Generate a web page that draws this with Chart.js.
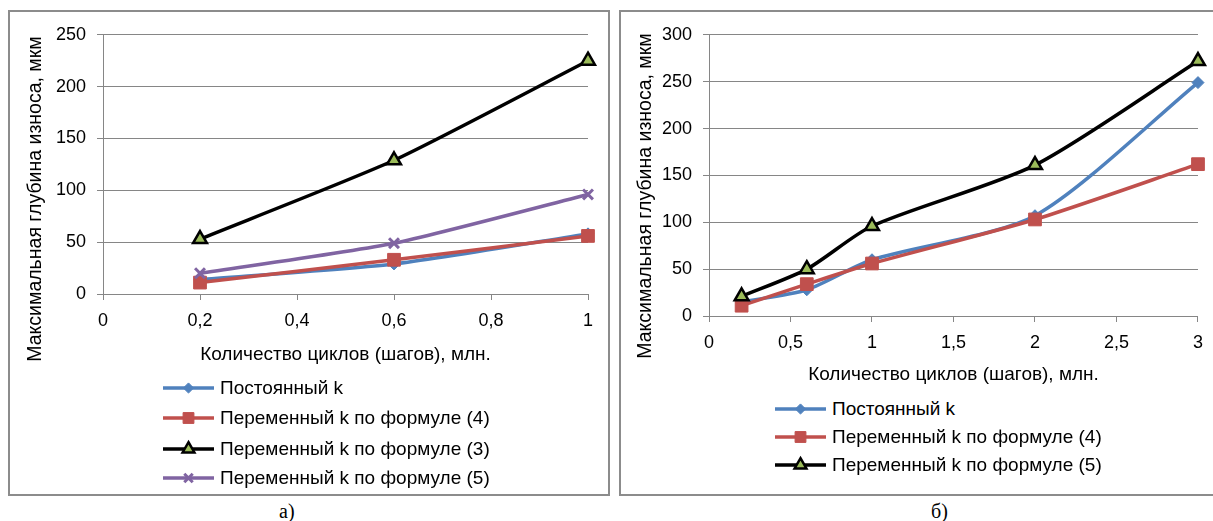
<!DOCTYPE html>
<html>
<head>
<meta charset="utf-8">
<script src="https://cdn.jsdelivr.net/npm/chart.js@4/dist/chart.umd.min.js"></script>
<style>
  html, body { margin: 0; padding: 0; background: #fff; }
  body { width: 1213px; height: 521px; position: relative; overflow: hidden; font-family: 'Liberation Sans', Arial, sans-serif; }
  .frame { position: absolute; border: 2px solid #8c8c8c; box-sizing: border-box; }
  canvas.chart { position: absolute; }
  .legend { position: absolute; }
  .legend .row { position: absolute; left: 0; height: 22px; display: flex; align-items: center; white-space: nowrap; font-size: 19px; color: #000; }
  .legend .row span { margin-left: 6px; }
  .ytitle { position: absolute; width: 400px; height: 24px; line-height: 24px; margin-left: -200px; margin-top: -12px; text-align: center; white-space: nowrap; font-size: 19.5px; color: #000; transform: rotate(-90deg); }
  .caption { position: absolute; font-family: 'Liberation Serif', 'Times New Roman', serif; font-size: 20px; color: #000; }
</style>
</head>
<body>
<div class="frame" style="left:8px;top:10px;width:602px;height:486px;"></div>
<div class="frame" style="left:619px;top:10px;width:600px;height:486px;"></div>

<div style="position:absolute;left:11px;top:13px;width:596px;height:365px;"><canvas id="chartA" class="chart"></canvas></div>
<div style="position:absolute;left:622px;top:13px;width:591px;height:385px;"><canvas id="chartB" class="chart"></canvas></div>

<div id="ytA" class="ytitle" style="left:34px;top:199px;"></div>
<div id="ytB" class="ytitle" style="left:644px;top:196px;"></div>

<div id="legendA" class="legend" style="left:163px;top:0;"></div>
<div id="legendB" class="legend" style="left:775px;top:0;"></div>

<div class="caption" style="left:279px;top:500px;">а)</div>
<div class="caption" style="left:931px;top:500px;">б)</div>

<script>
// --- chart а) ---
const cyclesA = [0.2, 0.6, 1];
const constKA = [14, 29, 58];
const form4A = [11, 33, 56];
const form3A = [53, 129, 225];
const form5A = [20, 49, 96];
const yTicksA = [0, 50, 100, 150, 200, 250];
const xTicksA = [0, 0.2, 0.4, 0.6, 0.8, 1];

// --- chart б) ---
const cyclesB = [0.2, 0.6, 1, 2, 3];
const constKB = [15, 28, 60, 107, 249];
const form4B = [11, 34, 56, 103, 162];
const form5B = [21, 50, 96, 161, 272];
const yTicksB = [0, 50, 100, 150, 200, 250, 300];
const xTicksB = [0, 0.5, 1, 1.5, 2, 2.5, 3];

const yTitle = 'Максимальная глубина износа, мкм';
const xTitle = 'Количество циклов (шагов), млн.';

const styles = {
    constK: { label: 'Постоянный k', color: '#4F81BD', fill: '#4F81BD', point: 'rectRot', radius: 6, pbw: 1 },
    form4:  { label: 'Переменный k по формуле (4)', color: '#C0504D', fill: '#C0504D', point: 'rect', radius: 9, pbw: 1 },
    form3:  { label: 'Переменный k по формуле (3)', color: '#000000', fill: '#9BBB59', point: 'triangle', radius: 8, pbw: 2.5 },
    form5:  { label: 'Переменный k по формуле (5)', color: '#8064A2', fill: '#8064A2', point: 'crossRot', radius: 7, pbw: 3 }
};

const GRID = '#868686';
Chart.defaults.font.family = "'Liberation Sans', Arial, sans-serif";
Chart.defaults.color = '#000';

document.getElementById('ytA').textContent = yTitle;
document.getElementById('ytB').textContent = yTitle;

function fmt(v) {
    return String(Number(v.toFixed(2))).replace('.', ',');
}

function makeSet(st, xs, ys, idx, total, tension) {
    return {
        label: st.label,
        data: xs.map((x, i) => ({ x: x, y: ys[i] })),
        borderColor: st.color,
        backgroundColor: st.fill,
        borderWidth: 3.5,
        pointStyle: st.point,
        pointRadius: st.radius,
        pointBorderColor: st.point === 'triangle' ? '#000' : st.color,
        pointBackgroundColor: st.fill,
        pointBorderWidth: st.pbw,
        tension: tension,
        clip: false,
        order: total - idx
    };
}

function makeChart(id, sets, xMax, xTicks, yMax, yTicks, pad, yWidth, xHeight) {
    return new Chart(document.getElementById(id), {
        type: 'line',
        data: { datasets: sets },
        options: {
            responsive: true,
            maintainAspectRatio: false,
            animation: false,
            layout: { padding: pad },
            plugins: { legend: { display: false }, tooltip: { enabled: false } },
            scales: {
                x: {
                    type: 'linear',
                    min: 0, max: xMax,
                    afterBuildTicks: s => { s.ticks = xTicks.map(v => ({ value: v })); },
                    afterFit: s => { s.height = xHeight; },
                    ticks: { callback: v => fmt(v), font: { size: 18 }, padding: 10, maxRotation: 0, autoSkip: false },
                    grid: { drawOnChartArea: false, drawTicks: true, tickLength: 6, color: GRID },
                    border: { color: GRID, width: 1 },
                    title: { display: true, text: xTitle, font: { size: 19 }, padding: { top: 4, bottom: 12 } }
                },
                y: {
                    min: 0, max: yMax,
                    afterBuildTicks: s => { s.ticks = yTicks.map(v => ({ value: v })); },
                    afterFit: s => { s.width = yWidth; },
                    ticks: { font: { size: 18 }, padding: 11 },
                    grid: { color: GRID, tickLength: 6, lineWidth: 1 },
                    border: { color: GRID, width: 1 }
                }
            }
        }
    });
}

const setsA = [
    makeSet(styles.constK, cyclesA, constKA, 0, 4, 0.2),
    makeSet(styles.form4, cyclesA, form4A, 1, 4, 0.2),
    makeSet(styles.form3, cyclesA, form3A, 2, 4, 0.2),
    makeSet(styles.form5, cyclesA, form5A, 3, 4, 0.2)
];
const setsB = [
    makeSet(styles.constK, cyclesB, constKB, 0, 3, 0.25),
    makeSet(styles.form4, cyclesB, form4B, 1, 3, 0.25),
    makeSet(Object.assign({}, styles.form3, { label: 'Переменный k по формуле (5)' }), cyclesB, form5B, 2, 3, 0.25)
];

makeChart('chartA', setsA, 1, xTicksA, 250, yTicksA, { top: 18, right: 19, left: 0, bottom: 0 }, 92, 84);
makeChart('chartB', setsB, 3, xTicksB, 300, yTicksB, { top: 16, right: 8, left: 0, bottom: 0 }, 87, 82);

// legend rows: line with marker, drawn with Chart.js point helper
function buildLegend(boxId, sets, rowsY) {
    const box = document.getElementById(boxId);
    sets.forEach((ds, i) => {
        const row = document.createElement('div');
        row.className = 'row';
        row.style.top = (rowsY[i] - 11) + 'px';
        const c = document.createElement('canvas');
        c.width = 51; c.height = 22;
        const ctx = c.getContext('2d');
        ctx.strokeStyle = ds.borderColor;
        ctx.lineWidth = 3.5;
        ctx.beginPath(); ctx.moveTo(0, 11); ctx.lineTo(51, 11); ctx.stroke();
        ctx.fillStyle = ds.pointBackgroundColor;
        ctx.strokeStyle = ds.pointBorderColor;
        ctx.lineWidth = ds.pointBorderWidth;
        const opts = { pointStyle: ds.pointStyle, rotation: 0, radius: ds.pointRadius * 0.85, borderWidth: ds.pointBorderWidth };
        if (Chart.helpers && Chart.helpers.drawPoint) {
            Chart.helpers.drawPoint(ctx, opts, 25.5, 11);
        }
        const span = document.createElement('span');
        span.textContent = ds.label;
        row.appendChild(c);
        row.appendChild(span);
        box.appendChild(row);
    });
}
buildLegend('legendA', setsA, [388, 418, 449, 478]);
buildLegend('legendB', setsB, [409, 437, 465]);
</script>
</body>
</html>
